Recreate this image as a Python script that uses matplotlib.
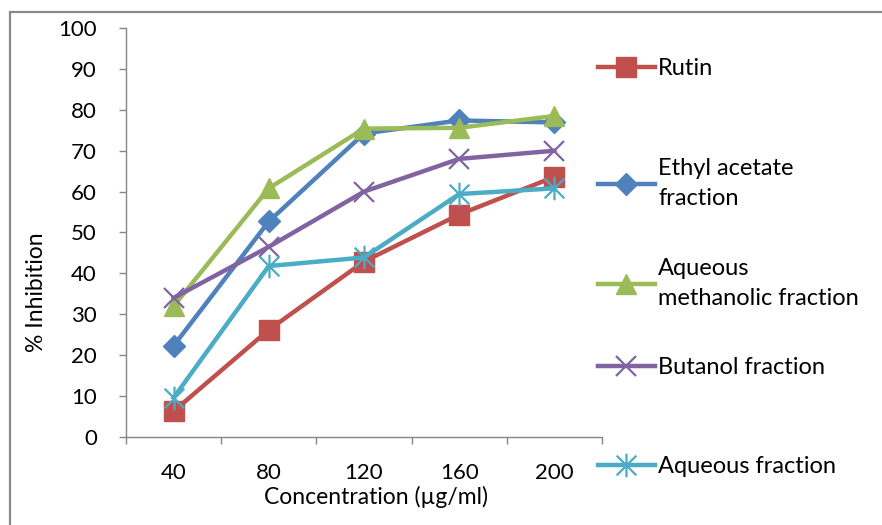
import numpy as np
import matplotlib.pyplot as plt
from matplotlib.path import Path
from matplotlib.patches import Rectangle

plt.rcParams['font.family'] = ['Lato', 'DejaVu Sans']

# concentrations (µg/ml) and % inhibition per sample
concentrations = ['40', '80', '120', '160', '200']
rutin = [6.3, 26.2, 42.9, 54.4, 63.6]
ethyl_acetate = [22.3, 52.7, 74.2, 77.4, 76.9]
aqueous_methanolic = [32.0, 60.8, 75.4, 75.6, 78.5]
butanol = [34.0, 46.5, 60.0, 68.0, 70.0]
aqueous = [9.6, 41.8, 43.9, 59.4, 60.8]

series_names = ['Rutin', 'Ethyl acetate\nfraction', 'Aqueous\nmethanolic fraction',
                'Butanol fraction', 'Aqueous fraction']
series_values = [rutin, ethyl_acetate, aqueous_methanolic, butanol, aqueous]

# Excel style asterisk: an x with a vertical bar through it
star_path = Path([(-0.5, -0.5), (0.5, 0.5), (-0.5, 0.5), (0.5, -0.5), (0, -0.6), (0, 0.6)],
                 [Path.MOVETO, Path.LINETO, Path.MOVETO, Path.LINETO, Path.MOVETO, Path.LINETO])

styles = [
    dict(color='#C0504D', marker='s', markersize=14.5),
    dict(color='#4F81BD', marker='D', markersize=11),
    dict(color='#9BBB59', marker='^', markersize=15),
    dict(color='#8064A2', marker='x', markersize=15, markeredgewidth=1.6),
    dict(color='#4BACC6', marker=star_path, markersize=17, markeredgewidth=1.6),
]

fig = plt.figure(figsize=(8.82, 5.25), dpi=100)
ax = fig.add_axes([126 / 882, 88 / 525, 476 / 882, 409 / 525])

x = np.arange(len(concentrations))
lines = []
for name, vals, st in zip(series_names, series_values, styles):
    ln, = ax.plot(x, vals, linewidth=3.2, label=name, **st)
    lines.append(ln)

axis_grey = '#868686'
ax.set_xlim(-0.5, len(concentrations) - 0.5)
ax.set_ylim(0, 100)
ax.set_yticks(np.arange(0, 101, 10))
ax.set_xticks(np.arange(-0.5, len(concentrations), 1.0))
ax.set_xticklabels([])
ax.set_xticks(x, minor=True)
ax.set_xticklabels(concentrations, minor=True)
ax.tick_params(axis='y', length=5, width=1, color=axis_grey, labelsize=16, pad=16)
ax.tick_params(axis='x', which='major', length=5, width=1, color=axis_grey)
ax.tick_params(axis='x', which='minor', length=0, labelsize=16, pad=18.5)
for side in ['top', 'right']:
    ax.spines[side].set_visible(False)
for side in ['left', 'bottom']:
    ax.spines[side].set_color(axis_grey)
    ax.spines[side].set_linewidth(1)

ax.set_xlabel('Concentration (µg/ml)', fontsize=16.5)
ax.xaxis.set_label_coords(0.525, -0.12)
ax.set_ylabel('% Inhibition', fontsize=16.5)
ax.yaxis.set_label_coords(-0.165, 0.355)

# one legend block per series, evenly spaced down the right side
legend_tops = [58, 158, 258, 357, 456]
for ln, top in zip(lines, legend_tops):
    leg = fig.legend([ln], [ln.get_label()], loc='upper left',
                     bbox_to_anchor=(598 / 882, 1 - top / 525), frameon=False,
                     fontsize=17, handlelength=2.4, handletextpad=0.15,
                     borderpad=0, borderaxespad=0)
    leg.get_texts()[0].set_linespacing(1.55)

# chart area border (left and top edges only are in view)
fig.add_artist(Rectangle((10 / 882, -0.1), 2.0, 1.1 - 12 / 525, transform=fig.transFigure,
                         fill=False, edgecolor='#898989', linewidth=1.6))

fig.savefig('out.png', dpi=100)
